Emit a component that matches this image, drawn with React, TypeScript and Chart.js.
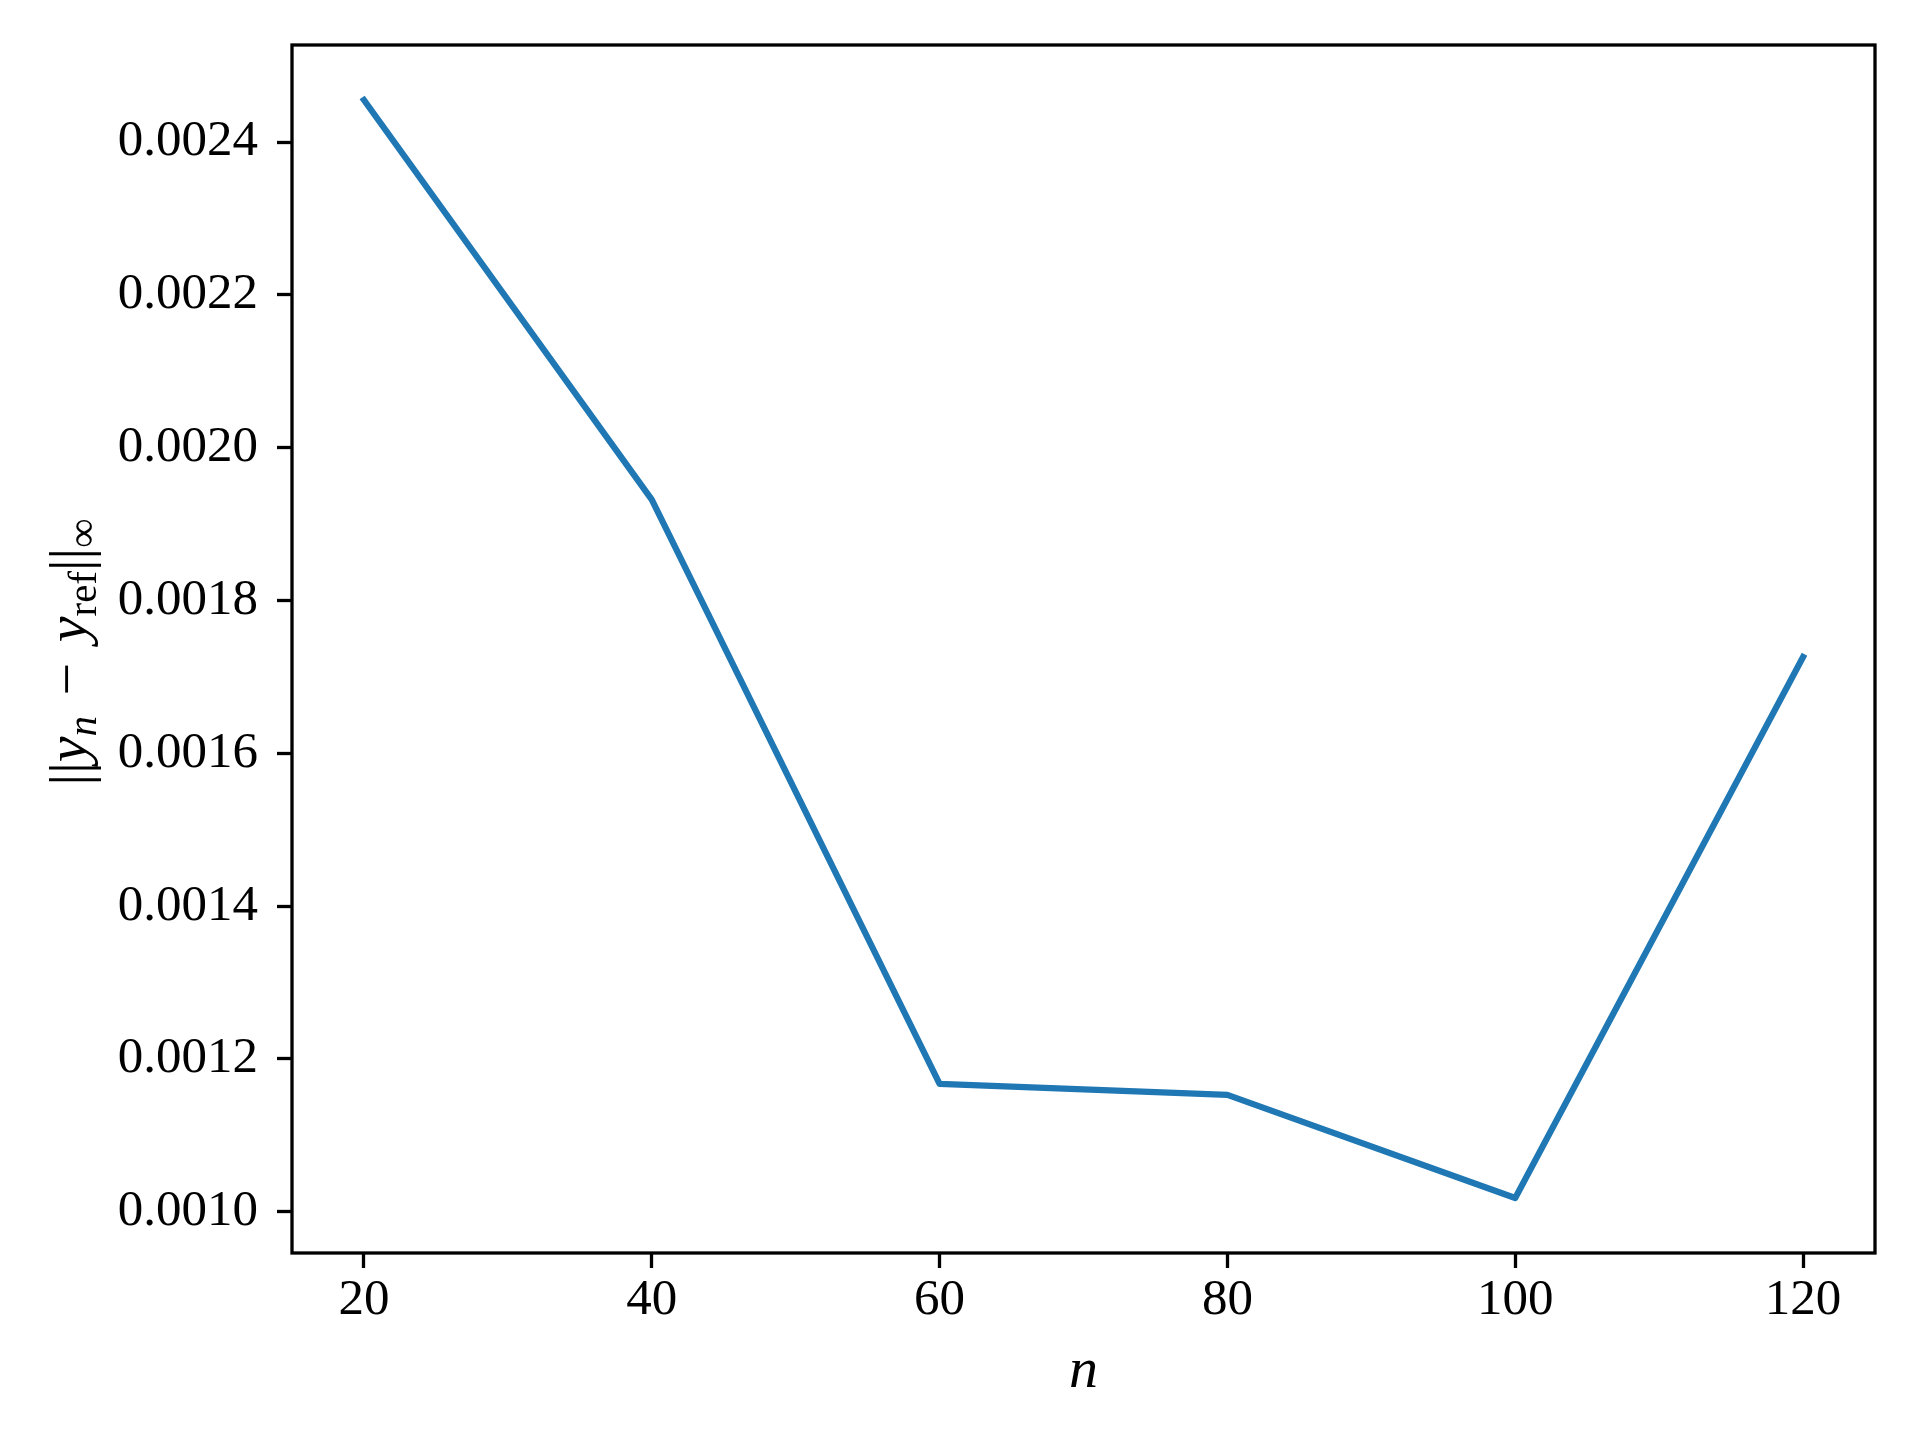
import React, { useEffect, useRef } from "react";
import { Chart, registerables } from "chart.js";

Chart.register(...registerables);

// ---- data ----
const nValues = [20, 40, 60, 80, 100, 120];
const errValues = [0.002455, 0.001932, 0.0011675, 0.001153, 0.001018, 0.001726];
const xTicks = [20, 40, 60, 80, 100, 120];
const yTicks = [0.001, 0.0012, 0.0014, 0.0016, 0.0018, 0.002, 0.0022, 0.0024];
const X_MIN = 15;
const X_MAX = 125;
const Y_MIN = 0.000946;
const Y_MAX = 0.002527;
const xTitle = "n";

const FONT = '"Liberation Serif", "DejaVu Serif", serif';
const FONT_SIZE = 51;
const TITLE_SIZE = 58;
const LINE_COLOR = "#1f77b4";

const framePlugin = {
  id: "frame",
  afterDraw(chart: any) {
    const { ctx, chartArea: a } = chart;
    ctx.save();
    ctx.strokeStyle = "#000";
    ctx.lineWidth = 3.3;
    ctx.lineJoin = "miter";
    ctx.strokeRect(a.left, a.top, a.right - a.left, a.bottom - a.top);
    ctx.restore();
  },
};

// y-axis title: ‖y_n − y_ref‖_∞ drawn rotated with sub-scripts
const yTitlePlugin = {
  id: "yTitle",
  afterDraw(chart: any) {
    const { ctx } = chart;
    const main = TITLE_SIZE;
    const sub = Math.round(TITLE_SIZE * 0.7);
    const shift = 10;
    const parts: { t: string; f: string; dy: number; gap: number }[] = [
      { t: "||", f: `${main}px ${FONT}`, dy: 3, gap: 0 },
      { t: "y", f: `italic ${main}px ${FONT}`, dy: 0, gap: 0 },
      { t: "n", f: `italic ${sub}px ${FONT}`, dy: shift, gap: 6 },
      { t: " \u2212 ", f: `${main}px ${FONT}`, dy: 0, gap: 6 },
      { t: "y", f: `italic ${main}px ${FONT}`, dy: 0, gap: 0 },
      { t: "ref", f: `${sub}px ${FONT}`, dy: shift, gap: 0 },
      { t: "||", f: `${main}px ${FONT}`, dy: 3, gap: 0 },
      { t: "\u221E", f: `${sub}px ${FONT}`, dy: shift, gap: 0 },
    ];
    ctx.save();
    let total = 0;
    const widths = parts.map((p) => {
      ctx.font = p.f;
      const w = ctx.measureText(p.t).width + p.gap;
      total += w;
      return w;
    });
    const cy = 652;
    ctx.translate(86, cy);
    ctx.rotate(-Math.PI / 2);
    ctx.fillStyle = "#000";
    ctx.textBaseline = "alphabetic";
    ctx.textAlign = "left";
    let x = -total / 2;
    parts.forEach((p, i) => {
      ctx.font = p.f;
      ctx.fillText(p.t, x, p.dy);
      x += widths[i];
    });
    ctx.restore();
  },
};

export default function App() {
  const ref = useRef<HTMLCanvasElement | null>(null);

  useEffect(() => {
    if (!ref.current) return;
    const chart = new Chart(ref.current, {
      type: "line",
      data: {
        datasets: [
          {
            data: nValues.map((n, i) => ({ x: n, y: errValues[i] })),
            borderColor: LINE_COLOR,
            backgroundColor: LINE_COLOR,
            borderWidth: 6.25,
            borderJoinStyle: "round",
            borderCapStyle: "square",
            pointRadius: 0,
            tension: 0,
            fill: false,
          },
        ],
      },
      options: {
        responsive: false,
        animation: false,
        devicePixelRatio: 1,
        layout: { padding: { left: 0, top: 45, right: 45, bottom: 0 } },
        plugins: {
          legend: { display: false },
          tooltip: { enabled: false },
        },
        scales: {
          x: {
            type: "linear",
            min: X_MIN,
            max: X_MAX,
            afterBuildTicks: (s: any) => {
              s.ticks = xTicks.map((v) => ({ value: v }));
            },
            afterFit: (s: any) => {
              s.height = 187;
              s.paddingLeft = 0;
              s.paddingRight = 0;
            },
            border: { display: false },
            grid: {
              drawOnChartArea: false,
              drawTicks: true,
              tickLength: 15,
              tickWidth: 3.3,
              tickColor: "#000",
            },
            ticks: {
              color: "#000",
              padding: 2,
              font: { family: FONT, size: FONT_SIZE },
              callback: (v: any) => String(v),
            },
            title: {
              display: true,
              text: xTitle,
              color: "#000",
              font: { family: FONT, size: TITLE_SIZE, style: "italic" },
              padding: { top: 0, bottom: 33 },
            },
          },
          y: {
            type: "linear",
            min: Y_MIN,
            max: Y_MAX,
            afterBuildTicks: (s: any) => {
              s.ticks = yTicks.map((v) => ({ value: v }));
            },
            afterFit: (s: any) => {
              s.width = 292;
              s.paddingTop = 0;
              s.paddingBottom = 0;
            },
            border: { display: false },
            grid: {
              drawOnChartArea: false,
              drawTicks: true,
              tickLength: 15,
              tickWidth: 3.3,
              tickColor: "#000",
            },
            ticks: {
              color: "#000",
              padding: 19,
              font: { family: FONT, size: FONT_SIZE },
              callback: (v: any) => Number(v).toFixed(4),
            },
          },
        },
      },
      plugins: [framePlugin, yTitlePlugin],
    } as any);
    return () => chart.destroy();
  }, []);

  return (
    <div style={{ position: "absolute", left: 0, top: 0, width: 1920, height: 1440, background: "#fff" }}>
      <canvas ref={ref} width={1920} height={1440} style={{ width: 1920, height: 1440, display: "block" }} />
    </div>
  );
}
